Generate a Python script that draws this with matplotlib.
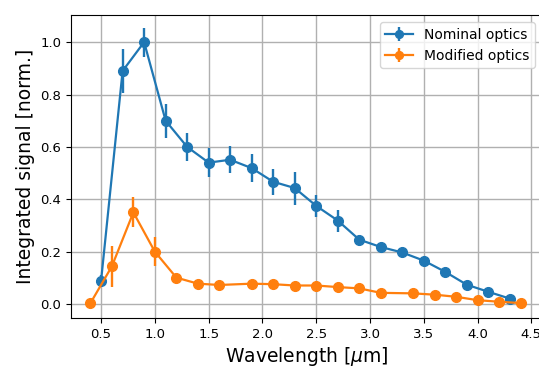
import matplotlib
matplotlib.use("Agg")
import matplotlib.pyplot as plt

wl_nom = [0.5, 0.7, 0.9, 1.1, 1.3, 1.5, 1.7, 1.9, 2.1, 2.3, 2.5, 2.7, 2.9, 3.1, 3.3, 3.5, 3.7, 3.9, 4.1, 4.3]
sig_nom = [0.09, 0.89, 1.0, 0.70, 0.60, 0.54, 0.551, 0.519, 0.467, 0.443, 0.375, 0.319, 0.246, 0.218, 0.197, 0.166, 0.123, 0.074, 0.047, 0.021]
err_nom = [0.02, 0.084, 0.055, 0.065, 0.053, 0.055, 0.052, 0.053, 0.05, 0.063, 0.042, 0.042, 0.015, 0.015, 0.012, 0.015, 0.015, 0.012, 0.01, 0.01]

wl_mod = [0.4, 0.6, 0.8, 1.0, 1.2, 1.4, 1.6, 1.9, 2.1, 2.3, 2.5, 2.7, 2.9, 3.1, 3.4, 3.6, 3.8, 4.0, 4.2, 4.4]
sig_mod = [0.003, 0.144, 0.35, 0.2, 0.101, 0.078, 0.073, 0.078, 0.076, 0.071, 0.071, 0.065, 0.06, 0.043, 0.041, 0.036, 0.028, 0.015, 0.009, 0.004]
err_mod = [0.005, 0.078, 0.057, 0.055, 0.012, 0.01, 0.01, 0.012, 0.01, 0.01, 0.01, 0.01, 0.01, 0.01, 0.008, 0.008, 0.008, 0.006, 0.005, 0.005]

fig = plt.figure(figsize=(5.39, 3.68), dpi=100)
ax = fig.add_axes([0.1317, 0.1359, 0.874, 0.823])

ax.errorbar(wl_nom, sig_nom, yerr=err_nom, fmt='-o', color='C0', ms=7, lw=1.6, elinewidth=1.7,
            label='Nominal optics')
ax.errorbar(wl_mod, sig_mod, yerr=err_mod, fmt='-o', color='C1', ms=7, lw=1.6, elinewidth=1.7,
            label='Modified optics')

ax.set_xlim(0.22, 4.6)
ax.set_ylim(-0.053, 1.103)
ax.set_xticks([0.5, 1.0, 1.5, 2.0, 2.5, 3.0, 3.5, 4.0, 4.5])
ax.set_yticks([0.0, 0.2, 0.4, 0.6, 0.8, 1.0])
ax.grid(True, color='#b0b0b0', lw=1.0)
ax.set_axisbelow(True)
ax.tick_params(labelsize=9.5)
ax.set_xlabel(r'Wavelength [$\mu$m]', fontsize=13.5, labelpad=3)
ax.set_ylabel('Integrated signal [norm.]', fontsize=13.5)
ax.legend(loc='upper right', fontsize=10, markerscale=0.8)

fig.savefig('out.png', dpi=100)
